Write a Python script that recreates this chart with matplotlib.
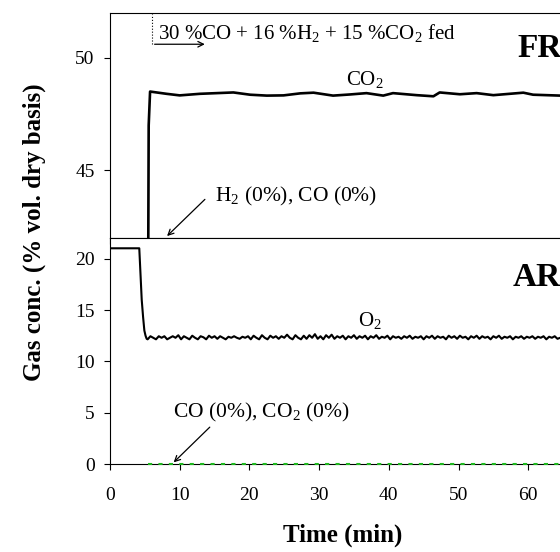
import numpy as np
import matplotlib
matplotlib.use("Agg")
import matplotlib.pyplot as plt
from matplotlib.ticker import MultipleLocator

plt.rcParams['font.family'] = ['Liberation Serif', 'DejaVu Serif']
plt.rcParams['mathtext.fontset'] = 'custom'
plt.rcParams['mathtext.rm'] = 'Liberation Serif'
plt.rcParams['mathtext.default'] = 'regular'

# Fuel reactor: CO2 outlet (% vol. dry basis)
co2_time = [5.45, 5.55, 5.75, 8.1, 10.0, 12.9, 17.7, 20.1, 22.5, 24.9, 27.3, 29.2,
            32.0, 34.4, 36.8, 39.2, 40.6, 44.0, 46.4, 47.3, 50.2, 52.6, 55.0,
            59.3, 60.7, 64.6, 67.0]
co2_vals = [38.0, 47.0, 48.50, 48.40, 48.33, 48.40, 48.46, 48.36, 48.32, 48.33,
            48.42, 48.45, 48.32, 48.37, 48.43, 48.32, 48.43, 48.34, 48.29, 48.46,
            48.38, 48.43, 48.34, 48.45, 48.36, 48.32, 48.35]

# Air reactor: O2 outlet
o2_start_time = [0.0, 4.2, 4.4, 4.55, 4.75, 4.93, 5.1, 5.26]
o2_start_vals = [21.0, 21.0, 18.2, 16.0, 14.3, 13.0, 12.5, 12.2]
o2_step = 0.4
o2_vals = [
    12.15, 12.45, 12.30, 12.15, 12.45, 12.30, 12.45, 12.15, 12.30, 12.45,
    12.30, 12.55, 12.15, 12.45, 12.30, 12.15, 12.50, 12.30, 12.15, 12.45,
    12.35, 12.15, 12.50, 12.30, 12.45, 12.20, 12.45, 12.30, 12.15, 12.40,
    12.30, 12.45, 12.30, 12.20, 12.40, 12.30, 12.45, 12.15, 12.50, 12.30,
    12.15, 12.55, 12.30, 12.15, 12.50, 12.30, 12.45, 12.20, 12.45, 12.30,
    12.60, 12.30, 12.15, 12.55, 12.30, 12.15, 12.50, 12.20, 12.55, 12.30,
    12.65, 12.20, 12.45, 12.15, 12.55, 12.30, 12.60, 12.20, 12.45, 12.30,
    12.50, 12.15, 12.45, 12.30, 12.55, 12.20, 12.45, 12.30, 12.50, 12.15,
    12.45, 12.30, 12.55, 12.20, 12.40, 12.30, 12.50, 12.15, 12.45, 12.30,
    12.40, 12.20, 12.45, 12.30, 12.50, 12.20, 12.40, 12.30, 12.45, 12.15,
    12.45, 12.30, 12.50, 12.20, 12.45, 12.30, 12.40, 12.15, 12.50, 12.30,
    12.45, 12.20, 12.50, 12.30, 12.40, 12.15, 12.45, 12.30, 12.50, 12.20,
    12.45, 12.30, 12.40, 12.15, 12.45, 12.30, 12.50, 12.20, 12.40, 12.30,
    12.45, 12.15, 12.40, 12.30, 12.45, 12.20, 12.40, 12.30, 12.45, 12.20,
    12.40, 12.30, 12.45, 12.15, 12.40, 12.30, 12.45, 12.20, 12.30, 12.40,
    12.30, 12.20,
]
o2_time = list(o2_start_time) + list(5.4 + o2_step * np.arange(len(o2_vals)))
o2_all = list(o2_start_vals) + o2_vals

# CO and CO2 in air reactor (0 %)
zero_time = [5.5, 67.0]
zero_vals = [0.0, 0.0]

x_ticks = [0, 10, 20, 30, 40, 50, 60]

fig = plt.figure(figsize=(5.6, 5.52), dpi=100)
W = 560.0
H = 552.0
left = 110 / W
width = (70 * 6.97) / W
ax1 = fig.add_axes([left, 1 - 238 / H, width, (238 - 12.7) / H])
ax2 = fig.add_axes([left, 1 - 464.3 / H, width, (464.3 - 238) / H])

for ax in (ax1, ax2):
    ax.set_xlim(0, 70)
    ax.set_xticks(x_ticks)
    ax.tick_params(direction='out', labelsize=14, length=4, width=0.8)
    ax.tick_params(axis='y', pad=7)
    ax.tick_params(axis='x', pad=12)
    for s in ax.spines.values():
        s.set_linewidth(0.8)

# top panel (FR)
ax1.plot(co2_time, co2_vals, color='black', lw=1.9)
ax1.set_ylim(42, 52)
ax1.set_yticks([45, 50])
ax1.xaxis.set_minor_locator(MultipleLocator(5))
ax1.tick_params(axis='x', which='both', labelbottom=False, length=4)
ax1.text(58.4, 50.4, 'FR', fontsize=24, fontweight='bold', va='center')
ax1.text(36.6, 49.05, 'CO$_2$', fontsize=15, ha='center', va='center')
ax1.plot([6.0, 6.0], [50.6, 51.95], color='black', lw=0.8, ls=':')
ax1.annotate('', xy=(14.0, 50.6), xytext=(6.0, 50.6),
             arrowprops=dict(arrowstyle='->', lw=0.9, color='black'))
ax1.text(6.9, 51.1, '30 %CO + 16 %H$_2$ + 15 %CO$_2$ fed', fontsize=15, va='center')
ax1.annotate('', xy=(7.9, 42.0), xytext=(13.9, 43.8),
             arrowprops=dict(arrowstyle='->', lw=0.9, color='black'))
ax1.text(15.1, 43.85, 'H$_2$ (0%), CO (0%)', fontsize=15.5, va='center')

# bottom panel (AR)
ax2.plot(o2_time, o2_all, color='black', lw=1.5)
ax2.plot(zero_time, zero_vals, color='#1fb81f', lw=1.5, ls=(0, (2, 3)),
         clip_on=False, zorder=3)
ax2.set_ylim(0, 22)
ax2.set_yticks([0, 5, 10, 15, 20])
ax2.text(57.8, 18.2, 'AR', fontsize=24, fontweight='bold', va='center')
ax2.text(35.6, 14.0, 'O$_2$', fontsize=15, va='center')
ax2.annotate('', xy=(8.85, 0.0), xytext=(14.6, 3.8),
             arrowprops=dict(arrowstyle='->', lw=0.9, color='black'))
ax2.text(9.0, 5.0, 'CO (0%), CO$_2$ (0%)', fontsize=15.5, va='center')

fig.text(343 / W, 1 - 535 / H, 'Time (min)', fontsize=18, fontweight='bold',
         ha='center', va='center')
fig.text(34 / W, 1 - 232 / H, 'Gas conc. (% vol. dry basis)', rotation=90,
         fontsize=18, fontweight='bold', ha='center', va='center')

fig.savefig('out.png', dpi=100)
